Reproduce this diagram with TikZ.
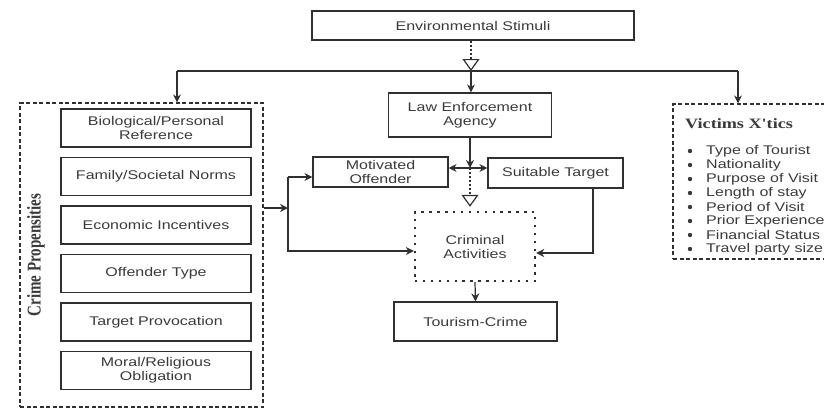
\documentclass[tikz,border=0pt]{standalone}
\usepackage{fontspec}
\setmainfont{Liberation Sans}[FakeStretch=1.27]
\newfontfamily\titlefont{Liberation Serif}[FakeStretch=1.27]
\newfontfamily\sidefont{Liberation Serif}
\usetikzlibrary{arrows.meta}

\definecolor{ink}{HTML}{3A3A3A}
\definecolor{edge}{HTML}{303030}

\tikzset{
  box/.style={draw=edge, line width=1.2pt, align=center, inner sep=0pt, text=ink,
    font=\fontsize{12.6}{14}\selectfont},
  dashbox/.style={draw=edge, line width=1.2pt, inner sep=0pt, dash pattern=on 4pt off 2.5pt},
  dotbox/.style={line width=2.4pt, dash pattern=on 2.4pt off 5.5pt},
  link/.style={->, draw=edge, line width=1.2pt},
  dotlink/.style={draw=edge, line width=1.2pt, dash pattern=on 2pt off 2pt,
    -{Triangle[open, length=12pt, width=17pt]}},
}

\begin{document}
\begin{tikzpicture}[x=1pt, y=-1pt, >={Stealth[length=8pt, width=8pt]}]
\useasboundingbox (0,0) rectangle (824,410);

% main column
\node[box, minimum width=322, minimum height=29] (env) at (473,25.5) {Environmental Stimuli};
\node[box, minimum width=163, minimum height=44] (law) at (470,115) {Law Enforcement\\Agency};
\node[box, minimum width=135, minimum height=30] (mot) at (380.5,172) {Motivated\\Offender};
\node[box, minimum width=135, minimum height=30] (suit) at (555.5,173) {Suitable Target};
\node[box, dotbox, minimum width=120, minimum height=69] (crim) at (475,246.5) {Criminal\\Activities};
\node[box, minimum width=163, minimum height=39] (tour) at (475.5,321.5) {Tourism-Crime};

% crime propensities
\node[dashbox, minimum width=243, minimum height=304] (prop) at (141.5,255) {};
\foreach \name [count=\i from 0] in {{Biological/Personal\\Reference}, Family/Societal Norms,
    Economic Incentives, Offender Type, Target Provocation, {Moral/Religious\\Obligation}}
  \node[box, minimum width=190, minimum height=38] (f\i) at (156,128+48.5*\i) {\name};
\node[rotate=90, text=ink, inner sep=0pt] (side) at (36,255)
  {\scalebox{1}[1.3]{\sidefont\bfseries\fontsize{15}{17}\selectfont Crime Propensities}};

% victims
\node[dashbox, minimum width=200, minimum height=155] (vict) at (773,181.5) {};
\node[anchor=west, text=ink, inner sep=0pt] (vtitle) at (685,124)
  {\titlefont\bfseries\fontsize{14.3}{16}\selectfont Victims X'tics};
\foreach \trait [count=\i] in {Type of Tourist, Nationality, Purpose of Visit, Length of stay,
    Period of Visit, Prior Experience, Financial Status, Travel party size}
{
  \fill[ink] (690,137+14*\i) circle (2.2);
  \node[anchor=west, text=ink, inner sep=0pt, font=\fontsize{12.6}{14}\selectfont] (v\i) at (706,137+14*\i) {\trait};
}

% branching from the stimuli
\coordinate (top) at (471,71);
\coordinate (tl) at (177,71);
\coordinate (tr) at (738,71);
\draw[dotlink] (env.south -| top) -- (top);
\draw[draw=edge, line width=1.2pt] (tl) -- (tr);
\draw[link] (tl) -- (tl |- prop.north);
\draw[link] (top) -- (top |- law.north);
\draw[link] (tr) -- (tr |- vict.north);

% centre
\coordinate (hub) at (470,168);
\draw[link] (law.south) -- (hub);
\draw[link, <->] (mot.east |- hub) -- (suit.west |- hub);
\draw[dotlink, shorten >=4pt] (hub) -- (hub |- crim.north);
\draw[link] (crim.south) -- (tour.north);

% left bus
\coordinate (bus) at (288,208);
\coordinate (busT) at (288,177);
\coordinate (busB) at (288,251);
\draw[link] (prop.east |- bus) -- (bus);
\draw[link] (busT) -- (busT -| mot.west);
\draw[link] (busT) -- (busB) -- (busB -| crim.west);

% right return
\coordinate (sd) at (593,253);
\draw[link] (suit.south -| sd) -- (sd) -- (sd -| crim.east);
\end{tikzpicture}
\end{document}
